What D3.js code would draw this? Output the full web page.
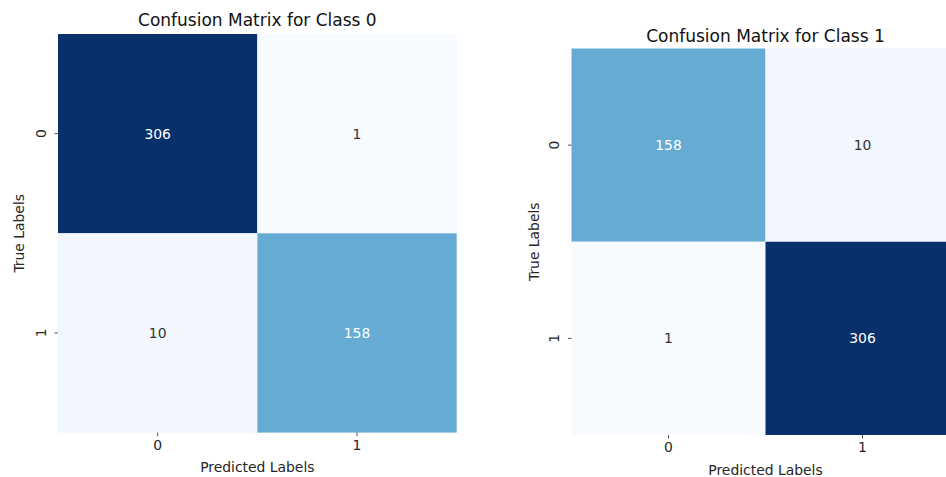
<!DOCTYPE html>
<html><head><meta charset="utf-8">
<script src="https://cdn.jsdelivr.net/npm/d3@7"></script>
<style>
body{margin:0;background:#fff;}
svg{display:block;font-family:"DejaVu Sans",sans-serif;}
</style></head><body>
<svg id="c" width="946" height="477"></svg>
<script>
const labels = ["0", "1"];
const class0Matrix = [[306, 1], [10, 158]];
const class1Matrix = [[158, 10], [1, 306]];
const titles = ["Confusion Matrix for Class 0", "Confusion Matrix for Class 1"];
const xLabel = "Predicted Labels";
const yLabel = "True Labels";

const blues = ["#f7fbff","#deebf7","#c6dbef","#9ecae1","#6baed6","#4292c6","#2171b5","#08519c","#08306b"];

const svg = d3.select("#c");

function drawPanel(matrix, title, box) {
  const g = svg.append("g");
  const flat = matrix.flat();
  const vmin = d3.min(flat), vmax = d3.max(flat);
  const t = d3.scaleLinear().domain([vmin, vmax]).range([0, 1]);
  const color = d3.scaleLinear().domain(d3.range(9).map(i => i / 8)).range(blues).interpolate(d3.interpolateRgb);
  const x = d3.scaleBand().domain(labels).range([box.x0, box.x1]);
  const y = d3.scaleBand().domain(labels).range([box.y0, box.y1]);

  const cells = [];
  matrix.forEach((row, i) => row.forEach((v, j) => cells.push({r: labels[i], c: labels[j], v})));

  g.selectAll("rect").data(cells).join("rect")
    .attr("x", d => x(d.c)).attr("y", d => y(d.r))
    .attr("width", x.bandwidth()).attr("height", y.bandwidth())
    .attr("fill", d => color(t(d.v)));

  g.selectAll("text.ann").data(cells).join("text").attr("class", "ann")
    .attr("x", d => x(d.c) + x.bandwidth() / 2)
    .attr("y", d => y(d.r) + y.bandwidth() / 2)
    .attr("dy", "0.36em").attr("text-anchor", "middle")
    .attr("font-size", 13.9)
    .attr("fill", d => t(d.v) > 0.45 ? "#ffffff" : "#333333")
    .text(d => d.v);

  // x axis
  const xa = g.append("g").attr("transform", `translate(0,${box.y1})`)
    .call(d3.axisBottom(x).tickSize(3.5).tickPadding(4));
  xa.select(".domain").remove();
  xa.selectAll("line").attr("stroke", "#262626").attr("stroke-width", 0.8);
  xa.selectAll("text").attr("font-size", 13.9).attr("fill", "#262626").attr("font-family", "DejaVu Sans");

  // y axis
  const ya = g.append("g").attr("transform", `translate(${box.x0},0)`)
    .call(d3.axisLeft(y).tickSize(3.5).tickPadding(4));
  ya.select(".domain").remove();
  ya.selectAll("line").attr("stroke", "#262626").attr("stroke-width", 0.8);
  ya.selectAll("text")
    .attr("font-size", 13.9).attr("fill", "#262626").attr("font-family", "DejaVu Sans")
    .attr("x", null).attr("dy", null)
    .attr("text-anchor", "middle")
    .attr("transform", `translate(${-(box.x0 - box.yTickBase)},0) rotate(-90)`);

  g.append("text")
    .attr("x", (box.x0 + box.x1) / 2).attr("y", box.titleY)
    .attr("text-anchor", "middle").attr("font-size", 17).attr("fill", "#111")
    .text(title);

  g.append("text")
    .attr("x", (box.x0 + box.x1) / 2).attr("y", box.xLabelY)
    .attr("text-anchor", "middle").attr("font-size", 13.9).attr("fill", "#262626")
    .text(xLabel);

  g.append("text")
    .attr("transform", `translate(${box.yLabelX},${(box.y0 + box.y1) / 2}) rotate(-90)`)
    .attr("text-anchor", "middle").attr("font-size", 13.9).attr("fill", "#262626")
    .text(yLabel);
}

drawPanel(class0Matrix, titles[0], {x0: 58, x1: 456.7, y0: 34, y1: 432.6, titleY: 26, xLabelY: 472, yLabelX: 24, yTickBase: 45.5});
drawPanel(class1Matrix, titles[1], {x0: 571.5, x1: 959.5, y0: 48.5, y1: 435, titleY: 41.7, xLabelY: 475, yLabelX: 539.3, yTickBase: 559});
</script>
</body></html>
